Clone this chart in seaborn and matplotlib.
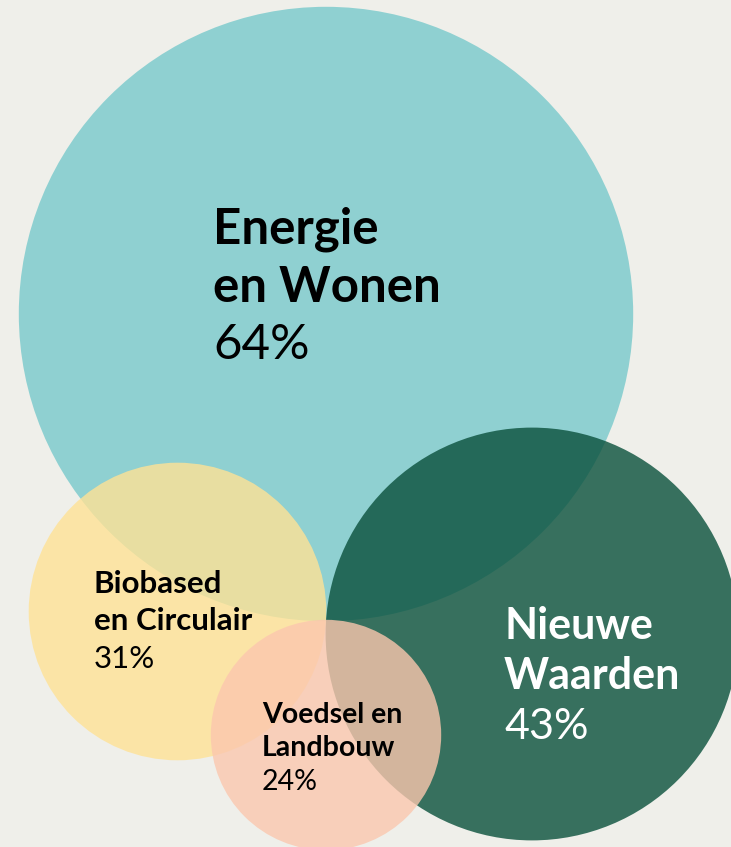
import matplotlib
matplotlib.use("Agg")
import matplotlib.pyplot as plt
import seaborn as sns
import pandas as pd
import numpy as np

# ---- data ----
names = ["Energie en Wonen", "Biobased en Circulair", "Nieuwe Waarden", "Voedsel en Landbouw"]
values = [64, 31, 43, 24]
label_lines = [["Energie", "en Wonen"], ["Biobased", "en Circulair"], ["Nieuwe", "Waarden"], ["Voedsel en", "Landbouw"]]
pct_labels = ["64%", "31%", "43%", "24%"]

# ---- layout (pixel coordinates) ----
W, H = 731, 847
cx = [326, 177.5, 532, 326]
cy = [314, 611.5, 634, 735]
px_per_pct = 4.8
colors = {"Energie en Wonen": "#77c9cb",
          "Biobased en Circulair": "#ffe295",
          "Nieuwe Waarden": "#09503b",
          "Voedsel en Landbouw": "#fbc7ae"}
text_x = [213, 94, 504, 262]
text_base = [244, 593, 639, 723]
line_gap = [57.5, 37.5, 50, 33.5]
name_size = [35.5, 22.5, 31, 20.5]
text_color = ["#000000", "#000000", "#ffffff", "#000000"]
bg = "#efefea"

sns.set_theme(style="white")
plt.rcParams["font.family"] = ["Lato", "DejaVu Sans"]

dpi = 100
fig = plt.figure(figsize=(W / dpi, H / dpi), dpi=dpi, facecolor=bg)
ax = fig.add_axes([0, 0, 1, 1])
ax.set_facecolor(bg)

radii_px = np.array(values) * px_per_pct
sizes = (2 * radii_px * 72 / dpi) ** 2

df = pd.DataFrame({"name": names, "x": cx, "y": cy, "value": values})
sns.scatterplot(data=df, x="x", y="y", hue="name", palette=colors, hue_order=names,
                s=sizes, alpha=0.8, linewidth=0, edgecolor="none", legend=False, ax=ax)

for i in range(len(names)):
    for j, line in enumerate(label_lines[i]):
        ax.text(text_x[i], text_base[i] + j * line_gap[i], line, fontsize=name_size[i],
                fontweight="bold", color=text_color[i], va="baseline", ha="left")
    ax.text(text_x[i], text_base[i] + 2 * line_gap[i], pct_labels[i], fontsize=name_size[i],
            fontweight="normal", color=text_color[i], va="baseline", ha="left")

ax.set_xlim(0, W)
ax.set_ylim(H, 0)
ax.axis("off")
fig.savefig("out.png", dpi=dpi, facecolor=bg)
